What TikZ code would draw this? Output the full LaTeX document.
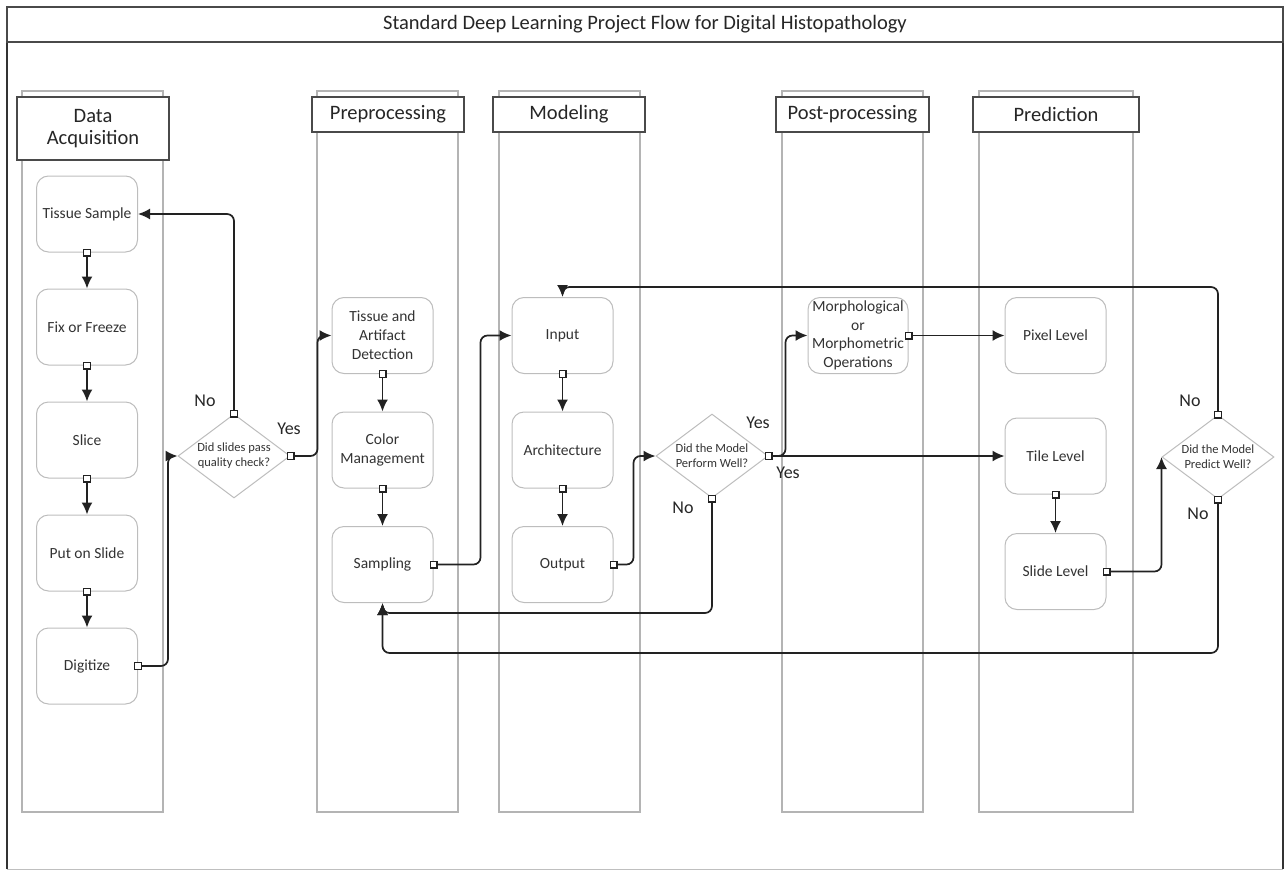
\documentclass[tikz,border=0pt]{standalone}
\usepackage{fontspec}
\setmainfont{Carlito}
\usetikzlibrary{shapes.geometric,positioning,arrows.meta}
\pgfdeclarelayer{background}
\pgfsetlayers{background,main}
\definecolor{lanegray}{HTML}{B4B4B4}
\definecolor{boxgray}{HTML}{BDBDBD}
\definecolor{headgray}{HTML}{4A4A4A}
\definecolor{linegray}{HTML}{222222}
\definecolor{textgray}{HTML}{333333}
\newcommand\titlefont{\fontsize{20.5}{23}\selectfont}
\newcommand\headfont{\fontsize{20.5}{22}\selectfont}
\newcommand\procfont{\fontsize{15.5}{19}\selectfont}
\newcommand\askfont{\fontsize{12.5}{15}\selectfont}
\newcommand\labfont{\fontsize{18}{20}\selectfont}

\begin{document}
\begin{tikzpicture}[x=1pt, y=-1pt,
	every node/.style={on grid},
	proc/.style={draw=boxgray, line width=1pt, rounded corners=12pt, fill=white, minimum width=101pt, minimum height=76pt, align=center, text=textgray, font=\procfont},
	ask/.style={draw=boxgray, line width=1pt, diamond, aspect=1.33, inner sep=0pt, minimum width=112pt, minimum height=84pt, fill=white, align=center, text=textgray, font=\askfont},
	lane/.style={draw=lanegray, line width=1.2pt, minimum width=141pt, minimum height=721pt},
	head/.style={draw=headgray, line width=1.3pt, fill=white, minimum width=152pt, minimum height=35pt, align=center, text=black!85, font=\headfont},
	lbl/.style={text=black!85, font=\labfont, inner sep=0pt},
	flow/.style={{Square[length=8pt,width=8pt,fill=white,line width=1.1pt]}-{Latex[length=12pt,width=11pt]}, shorten <=-4pt, draw=linegray, line width=1.7pt, rounded corners=7pt},
	node distance=113pt]
	\useasboundingbox (0,0) rectangle (1284,872);

	% frame and title
	\draw[draw=black!25, line width=1pt] (7,869) -- (1283,869);
	\draw[draw=black!80, line width=1.3pt] (7,869) -- (7,7) -- (1283,7) -- (1283,869);
	\node[draw=headgray, line width=1.3pt, minimum width=1276pt, minimum height=35pt, font=\titlefont, text=black!85] (title) at (645,24.5) {Standard Deep Learning Project Flow for Digital Histopathology};

	% lanes
	\begin{pgfonlayer}{background}
		\node[lane] (laneA) at (92.5,451.5) {};
		\node[lane] (laneB) at (387.5,451.5) {};
		\node[lane] (laneC) at (569.5,451.5) {};
		\node[lane] (laneD) at (852.5,451.5) {};
		\node[lane, minimum width=154pt] (laneE) at (1056,451.5) {};
	\end{pgfonlayer}
	\node[head, minimum height=63pt] (headA) at (93,128.5) {Data\\Acquisition};
	\node[head] (headB) at (388,114.5) {Preprocessing};
	\node[head] (headC) at (569,114.5) {Modeling};
	\node[head, minimum width=153pt] (headD) at (852.5,114.5) {Post-processing};
	\node[head, minimum width=166pt] (headE) at (1056,114.5) {Prediction};

	% data acquisition
	\node[proc] (ts) at (87,214) {Tissue Sample};
	\node[proc, below=of ts] (ff) {Fix or Freeze};
	\node[proc, below=of ff] (sl) {Slice};
	\node[proc, below=of sl] (ps) {Put on Slide};
	\node[proc, below=of ps] (dg) {Digitize};
	\node[ask] (d1) at (234,456) {Did slides pass\\quality check?};

	% preprocessing and modeling
	\node[proc] (tad) at (382.5,335.5) {Tissue and\\Artifact\\Detection};
	\node[proc, below=114.5pt of tad] (cm) {Color\\Management};
	\node[proc, below=114.5pt of cm] (samp) {Sampling};
	\node[proc, right=180pt of tad] (inp) {Input};
	\node[proc, right=180pt of cm] (arch) {Architecture};
	\node[proc, right=180pt of samp] (out) {Output};
	\node[ask] (d2) at (712,456) {Did the Model\\Perform Well?};

	% post-processing and prediction
	\node[proc, minimum width=100pt, inner sep=0pt, font=\fontsize{15.5}{18.5}\selectfont, right=475.5pt of tad] (morph) {Morphological\\or\\Morphometric\\Operations};
	\node[proc, right=197.5pt of morph] (pix) {Pixel Level};
	\node[proc, below=120.5pt of pix] (tile) {Tile Level};
	\node[proc, below=115.5pt of tile] (sld) {Slide Level};
	\node[ask] (d3) at (1218,457) {Did the Model\\Predict Well?};

	% answers
	\node[lbl] (noA) at (205,401) {No};
	\node[lbl] (yesA) at (289,429) {Yes};
	\node[lbl] (yesB) at (758,423) {Yes};
	\node[lbl] (yesC) at (788,473) {Yes};
	\node[lbl] (noB) at (683,508) {No};
	\node[lbl] (noC) at (1190,401) {No};
	\node[lbl] (noD) at (1198,514) {No};

	\coordinate (topway) at (0,287);
	\coordinate (lowA) at (0,613);
	\coordinate (lowB) at (0,653);

	\foreach \a/\b in {ts/ff, ff/sl, sl/ps, ps/dg, tad/cm, cm/samp, inp/arch, arch/out, tile/sld}
		\draw[flow] (\a.south) -- (\b.north);
	\draw[flow] (dg.east) -- ++(30,0) |- (d1.west);
	\draw[flow] (d1.north) |- (ts.east);
	\draw[flow] (d1.east) -- ++(27,0) |- (tad.west);
	\draw[flow] (samp.east) -- ++(47,0) |- (inp.west);
	\draw[flow] (out.east) -- ++(20,0) |- (d2.west);
	\draw[flow] (d2.east) -- (tile.west);
	\draw[flow] (d2.east) -- ++(17,0) |- (morph.west);
	\draw[flow] (morph.east) -- (pix.west);
	\draw[flow] (sld.east) -| (d3.west);
	\draw[flow] (d3.north) |- (topway -| inp.north) -- (inp.north);
	\draw[flow] (d2.south) |- (lowA -| samp.south) -- (samp.south);
	\draw[flow] (d3.south) |- (lowB -| samp.south) -- (samp.south);
\end{tikzpicture}
\end{document}
